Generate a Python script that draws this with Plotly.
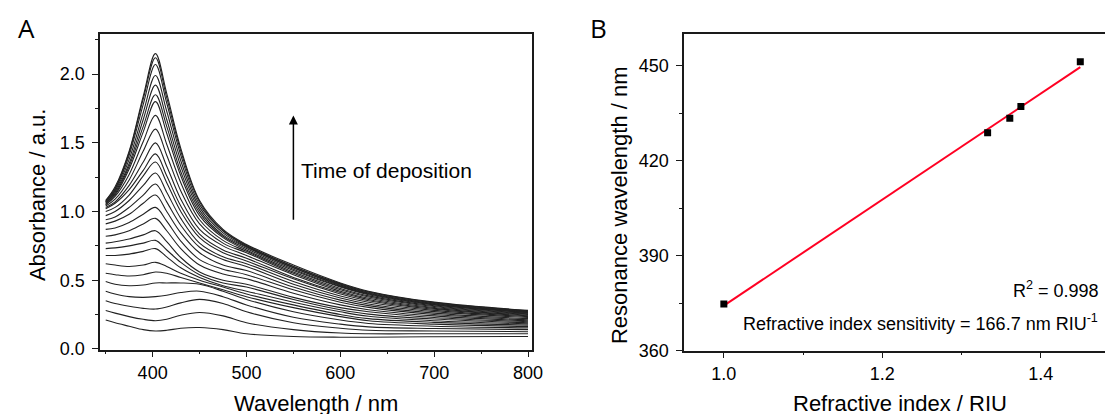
import numpy as np
import plotly.graph_objects as go

# ---------------- Panel A data: absorbance spectra during deposition ----------------
wavelength_nm = [350, 360, 375, 390, 403, 415, 430, 450, 475, 500, 550, 600, 630, 700, 800]

s01 = [1.08, 1.18, 1.44, 1.84, 2.15, 1.86, 1.46, 1.08, 0.87, 0.76, 0.61, 0.480, 0.420, 0.340, 0.280]
s02 = [1.08, 1.17, 1.43, 1.82, 2.12, 1.83, 1.44, 1.07, 0.86, 0.755, 0.60, 0.475, 0.416, 0.337, 0.278]
s03 = [1.07, 1.16, 1.41, 1.78, 2.07, 1.79, 1.41, 1.05, 0.86, 0.75, 0.60, 0.470, 0.412, 0.334, 0.275]
s04 = [1.07, 1.15, 1.38, 1.72, 1.99, 1.73, 1.37, 1.03, 0.845, 0.745, 0.59, 0.465, 0.407, 0.330, 0.272]
s05 = [1.06, 1.14, 1.35, 1.67, 1.92, 1.67, 1.33, 1.01, 0.83, 0.74, 0.59, 0.460, 0.403, 0.327, 0.270]
s06 = [1.06, 1.13, 1.33, 1.62, 1.85, 1.62, 1.29, 0.99, 0.82, 0.73, 0.58, 0.455, 0.399, 0.323, 0.267]
s07 = [1.05, 1.12, 1.31, 1.58, 1.80, 1.57, 1.26, 0.97, 0.81, 0.72, 0.57, 0.450, 0.394, 0.320, 0.264]
s08 = [1.05, 1.11, 1.27, 1.51, 1.70, 1.49, 1.21, 0.94, 0.79, 0.71, 0.56, 0.440, 0.386, 0.314, 0.260]
s09 = [1.04, 1.09, 1.23, 1.44, 1.60, 1.41, 1.15, 0.91, 0.77, 0.70, 0.55, 0.430, 0.378, 0.308, 0.255]
s10 = [1.03, 1.07, 1.19, 1.36, 1.50, 1.33, 1.09, 0.87, 0.75, 0.68, 0.54, 0.420, 0.369, 0.301, 0.250]
s11 = [1.02, 1.06, 1.16, 1.30, 1.42, 1.26, 1.04, 0.835, 0.72, 0.66, 0.52, 0.410, 0.360, 0.295, 0.245]
s12 = [1.00, 1.03, 1.12, 1.26, 1.36, 1.21, 1.00, 0.81, 0.70, 0.64, 0.51, 0.400, 0.350, 0.288, 0.240]
s13 = [0.97, 1.00, 1.08, 1.19, 1.28, 1.14, 0.95, 0.77, 0.67, 0.62, 0.49, 0.385, 0.340, 0.280, 0.235]
s14 = [0.94, 0.96, 1.03, 1.12, 1.20, 1.07, 0.90, 0.74, 0.65, 0.60, 0.47, 0.370, 0.327, 0.271, 0.228]
s15 = [0.91, 0.93, 0.98, 1.06, 1.12, 1.00, 0.845, 0.70, 0.61, 0.57, 0.45, 0.355, 0.315, 0.260, 0.220]
s16 = [0.87, 0.88, 0.92, 0.98, 1.03, 0.93, 0.785, 0.65, 0.58, 0.54, 0.43, 0.340, 0.302, 0.250, 0.212]
s17 = [0.82, 0.83, 0.86, 0.91, 0.95, 0.86, 0.73, 0.61, 0.545, 0.51, 0.405, 0.320, 0.285, 0.240, 0.205]
s18 = [0.77, 0.78, 0.80, 0.83, 0.86, 0.78, 0.665, 0.56, 0.50, 0.47, 0.375, 0.300, 0.270, 0.228, 0.197]
s19 = [0.73, 0.735, 0.75, 0.77, 0.79, 0.72, 0.63, 0.54, 0.48, 0.45, 0.36, 0.285, 0.253, 0.217, 0.190]
s20 = [0.68, 0.68, 0.69, 0.71, 0.73, 0.67, 0.59, 0.52, 0.46, 0.42, 0.34, 0.270, 0.237, 0.205, 0.182]
s21 = [0.62, 0.61, 0.60, 0.61, 0.63, 0.60, 0.55, 0.50, 0.45, 0.40, 0.32, 0.250, 0.220, 0.193, 0.173]
s22 = [0.55, 0.54, 0.53, 0.54, 0.56, 0.55, 0.52, 0.48, 0.43, 0.38, 0.30, 0.235, 0.205, 0.180, 0.163]
s23 = [0.49, 0.47, 0.46, 0.465, 0.48, 0.48, 0.48, 0.47, 0.42, 0.36, 0.27, 0.210, 0.185, 0.165, 0.153]
s24 = [0.42, 0.40, 0.38, 0.375, 0.38, 0.39, 0.41, 0.42, 0.38, 0.32, 0.23, 0.180, 0.160, 0.148, 0.140]
s25 = [0.35, 0.33, 0.31, 0.295, 0.29, 0.305, 0.335, 0.36, 0.33, 0.27, 0.19, 0.150, 0.135, 0.130, 0.125]
s26 = [0.28, 0.26, 0.235, 0.215, 0.205, 0.215, 0.245, 0.265, 0.24, 0.19, 0.14, 0.115, 0.110, 0.110, 0.110]
s27 = [0.21, 0.19, 0.165, 0.14, 0.13, 0.135, 0.15, 0.155, 0.14, 0.11, 0.09, 0.085, 0.085, 0.088, 0.090]

spectra = [s01, s02, s03, s04, s05, s06, s07, s08, s09, s10, s11, s12, s13, s14,
           s15, s16, s17, s18, s19, s20, s21, s22, s23, s24, s25, s26, s27]

# ---------------- Panel B data: resonance wavelength vs refractive index ----------------
refractive_index = [1.000, 1.333, 1.361, 1.375, 1.450]
resonance_nm = [374.7, 428.9, 433.5, 437.2, 451.3]

A_xticks = [400, 500, 600, 700, 800]
A_yticks = [0.0, 0.5, 1.0, 1.5, 2.0]
B_xticks = [1.0, 1.2, 1.4]
B_yticks = [360, 390, 420, 450]

FONT = "Liberation Sans, Arial, sans-serif"
AX = "#1a1a1a"

fig = go.Figure()

for s in spectra:
    fig.add_trace(go.Scatter(
        x=wavelength_nm, y=s, mode="lines", xaxis="x", yaxis="y",
        line=dict(color="#222222", width=1.1, shape="spline", smoothing=1.0),
        showlegend=False, hoverinfo="skip"))

# linear fit (computed from the data points)
slope, intercept = np.polyfit(refractive_index, resonance_nm, 1)
fit_x = [min(refractive_index), max(refractive_index)]
fit_y = [slope * v + intercept for v in fit_x]
fig.add_trace(go.Scatter(
    x=fit_x, y=fit_y, mode="lines", xaxis="x2", yaxis="y2",
    line=dict(color="rgb(255,0,35)", width=2), showlegend=False))
fig.add_trace(go.Scatter(
    x=refractive_index, y=resonance_nm, mode="markers", xaxis="x2", yaxis="y2",
    marker=dict(symbol="square", size=7, color="black"), showlegend=False))

W, H = 1113, 414
def px(x):
    return x / W
def py(y):
    return (H - y) / H

common = dict(showline=True, linecolor=AX, linewidth=1.5, ticks="outside",
              tickcolor=AX, tickwidth=1.2, ticklen=6, showgrid=False, zeroline=False,
              tickfont=dict(family=FONT, size=18, color="black"))

fig.update_layout(
    width=W, height=H, margin=dict(l=0, r=0, t=0, b=0),
    paper_bgcolor="white", plot_bgcolor="white",
    xaxis=dict(domain=[px(93), px(529)], range=[344, 804], anchor="y",
               tickvals=A_xticks, mirror=True,
               minor=dict(ticks="outside", dtick=50, tick0=350, ticklen=3, tickcolor=AX),
               **common),
    yaxis=dict(domain=[py(350), py(27)], range=[-0.005, 2.29], anchor="x",
               tickvals=A_yticks, tickformat=".1f", mirror=True, ticklabelstandoff=4,
               minor=dict(ticks="outside", dtick=0.25, tick0=0, ticklen=3, tickcolor=AX),
               **common),
    xaxis2=dict(domain=[px(683), 1.0], range=[0.95, 1.4875], anchor="y2",
                tickvals=B_xticks, tickformat=".1f", mirror=True,
                minor=dict(ticks="outside", dtick=0.1, tick0=1.0, ticklen=3, tickcolor=AX),
                **common),
    yaxis2=dict(domain=[py(351), py(27)], range=[360, 460], anchor="x2",
                tickvals=B_yticks, mirror=False, ticklabelstandoff=4,
                minor=dict(ticks="outside", dtick=15, tick0=360, ticklen=3, tickcolor=AX),
                **common),
)

ann = []
tfont = dict(family=FONT, size=22, color="black")
ann.append(dict(text="Wavelength / nm", x=px(311), y=py(405), xref="paper", yref="paper",
                showarrow=False, font=tfont, xanchor="center", yanchor="middle"))
ann.append(dict(text="Absorbance / a.u.", x=px(30), y=py(192), xref="paper", yref="paper",
                showarrow=False, font=tfont, textangle=-90, xanchor="center", yanchor="middle"))
ann.append(dict(text="Refractive index / RIU", x=px(901), y=py(405), xref="paper", yref="paper",
                showarrow=False, font=tfont, xanchor="center", yanchor="middle"))
ann.append(dict(text="Resonance wavelength / nm", x=px(617), y=py(202), xref="paper", yref="paper",
                showarrow=False, font=tfont, textangle=-90, xanchor="center", yanchor="middle"))
lfont = dict(family="Open Sans, Noto Sans, sans-serif", size=26, color="black")
ann.append(dict(text="A", x=px(19), y=py(21), xref="paper", yref="paper",
                showarrow=False, font=lfont, xanchor="center", yanchor="middle"))
ann.append(dict(text="B", x=px(596), y=py(21), xref="paper", yref="paper",
                showarrow=False, font=lfont, xanchor="center", yanchor="middle"))
# arrow + label in panel A
ann.append(dict(text="", x=550, y=1.70, ax=550, ay=0.93, xref="x", yref="y",
                axref="x", ayref="y", showarrow=True, arrowhead=2, arrowsize=1.2,
                arrowwidth=1.5, arrowcolor="black"))
ann.append(dict(text="Time of deposition", x=556, y=1.30, xref="x", yref="y",
                showarrow=False, font=dict(family=FONT, size=21, color="black"),
                xanchor="left", yanchor="middle"))
# panel B texts
bfont = dict(family=FONT, size=18, color="black")
ann.append(dict(text="R<sup>2</sup> = 0.998", x=1.476, y=379.4, xref="x2", yref="y2",
                showarrow=False, font=bfont, xanchor="right", yanchor="middle"))
ann.append(dict(text="Refractive index sensitivity = 166.7 nm RIU<sup>-1</sup>", x=1.022, y=368.9,
                xref="x2", yref="y2", showarrow=False, font=bfont,
                xanchor="left", yanchor="middle"))
fig.update_layout(annotations=ann)

fig.write_html("out.html")
